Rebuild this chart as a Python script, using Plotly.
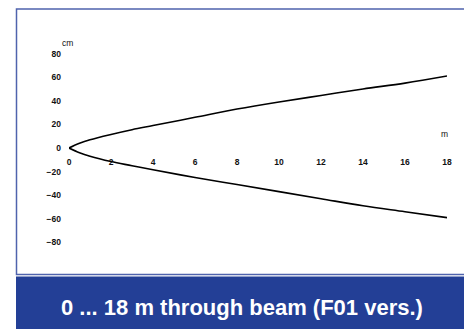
import plotly.graph_objects as go

# Data (distance in m, beam half-width in cm)
dist_m = [0, 0.5, 1, 2, 3, 4, 6, 8, 10, 12, 14, 16, 18]
upper_cm = [0, 4, 7, 11.5, 15.5, 19, 26, 33, 39, 44.5, 50, 55, 61]
lower_cm = [0, -4, -7, -11.5, -15, -18.5, -25, -31, -37, -43, -49, -54, -59]
x_ticks = [0, 2, 4, 6, 8, 10, 12, 14, 16, 18]
y_ticks = [-80, -60, -40, -20, 0, 20, 40, 60, 80]
title_text = "0 ... 18 m through beam (F01 vers.)"

W, H = 464, 329
ML, MR, MT, MB = 69, 17, 30, 63.4
PW = W - ML - MR
PH = H - MT - MB

def px_x(px):
    return (px - ML) / PW

def px_y(py):
    return (H - MB - py) / PH

fig = go.Figure()
fig.add_trace(go.Scatter(x=dist_m, y=upper_cm, mode="lines", line=dict(color="black", width=1.6, shape="spline"), cliponaxis=False, showlegend=False))
fig.add_trace(go.Scatter(x=dist_m, y=lower_cm, mode="lines", line=dict(color="black", width=1.6, shape="spline"), cliponaxis=False, showlegend=False))

tickfont = dict(family="Liberation Sans, Arial", size=8.5, color="#111111", weight="bold")
fig.update_layout(
    width=W, height=H,
    margin=dict(l=ML, r=MR, t=MT, b=MB, pad=0),
    paper_bgcolor="white", plot_bgcolor="white",
    xaxis=dict(range=[0, 18], tickvals=x_ticks, showgrid=False, zeroline=False, showline=False,
               ticks="", anchor="free", position=0.5, tickfont=tickfont, ticklabelstandoff=7, fixedrange=True),
    yaxis=dict(range=[-100, 100], tickvals=y_ticks, showgrid=False, zeroline=False, showline=False,
               ticks="", ticklabelstandoff=7, tickfont=tickfont, fixedrange=True),
    shapes=[
        dict(type="rect", xref="paper", yref="paper", x0=px_x(16.5), x1=px_x(480), y0=px_y(274), y1=px_y(9),
             line=dict(color="#4f63ad", width=1.5), fillcolor="rgba(0,0,0,0)", layer="below"),
        dict(type="rect", xref="paper", yref="paper", x0=px_x(16), x1=px_x(470), y0=px_y(335), y1=px_y(276),
             line=dict(width=0), fillcolor="#233f96", layer="above"),
    ],
    annotations=[
        dict(text="cm", xref="paper", yref="paper", x=px_x(67), y=px_y(43), showarrow=False,
             font=dict(family="Liberation Sans, Arial", size=8.5, color="#111111"), xanchor="center", yanchor="middle"),
        dict(text="m", xref="paper", yref="paper", x=px_x(444), y=px_y(134), showarrow=False,
             font=dict(family="Liberation Sans, Arial", size=8.5, color="#111111"), xanchor="center", yanchor="middle"),
        dict(text="<b>" + title_text + "</b>", xref="paper", yref="paper", x=px_x(242), y=px_y(307), showarrow=False,
             font=dict(family="Liberation Sans, Arial", size=22, color="white"), xanchor="center", yanchor="middle"),
    ],
)

fig.write_html("out.html", config=dict(displayModeBar=False),
               post_script="document.body.style.margin='0';document.body.style.overflow='hidden';")
